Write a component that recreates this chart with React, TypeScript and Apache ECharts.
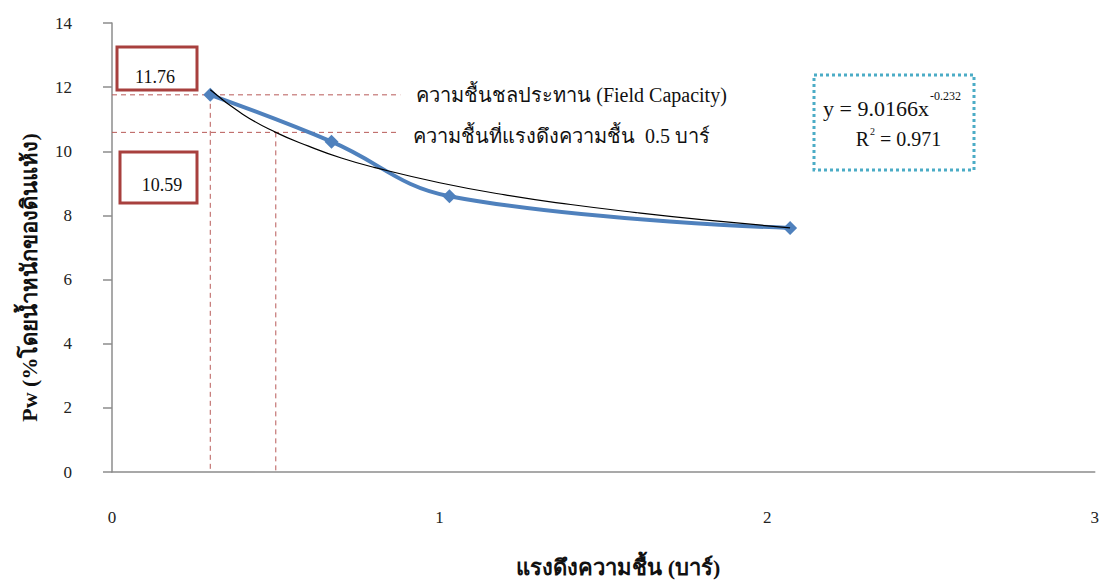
import React, { useEffect, useRef } from "react";
import * as echarts from "echarts";

const suctionBar = [0.3, 0.67, 1.03, 2.07];
const waterPw = [11.76, 10.3, 8.6, 7.61];

const trendX = [0.3, 0.4, 0.5, 0.6, 0.7, 0.8, 1.0, 1.2, 1.4, 1.6, 1.8, 2.07];
const trendY = [11.92, 11.15, 10.59, 10.16, 9.79, 9.5, 9.02, 8.64, 8.34, 8.09, 7.87, 7.61];

const fieldCapacity = 11.76;
const fieldCapacityX = 0.3;
const halfBarX = 0.5;
const halfBarPw = 10.59;
const guideEndX = 0.88;

const xTicks = [0, 1, 2, 3];
const yTicks = [0, 2, 4, 6, 8, 10, 12, 14];

const FONT = "'Liberation Serif', 'Times New Roman', serif";
const RED = "#b85a58";

export default function App() {
  const ref = useRef<HTMLDivElement>(null);
  useEffect(() => {
    if (!ref.current) return;
    const chart = echarts.init(ref.current, undefined, { renderer: "svg" });
    const dashed = { color: RED, width: 1, type: [5, 4] as any };
    const guideLabel = (text: string, dy: number) => ({
      show: true,
      distance: 16,
      offset: [0, dy],
      formatter: text,
      color: "#111",
      fontFamily: FONT,
      fontSize: 20,
    });
    chart.setOption({
      animation: false,
      backgroundColor: "#fff",
      grid: { left: 112, right: 7, top: 23, bottom: 111, containLabel: false },
      xAxis: {
        type: "value",
        min: xTicks[0],
        max: xTicks[xTicks.length - 1],
        interval: 1,
        splitLine: { show: false },
        axisLine: { lineStyle: { color: "#8c8c8c", width: 1.5 } },
        axisTick: { show: false },
        axisLabel: { margin: 37, color: "#222", fontFamily: FONT, fontSize: 17 },
        name: "แรงดึงความชื้น (บาร์)",
        nameLocation: "middle",
        nameGap: 84,
        nameTextStyle: {
          color: "#111",
          fontFamily: FONT,
          fontSize: 22,
          fontWeight: "bold",
          padding: [0, 0, 0, 30],
        },
      },
      yAxis: {
        type: "value",
        min: yTicks[0],
        max: yTicks[yTicks.length - 1],
        interval: 2,
        splitLine: { show: false },
        axisLine: { show: true, lineStyle: { color: "#8c8c8c", width: 1.5 } },
        axisTick: { show: true, length: 9, lineStyle: { color: "#8c8c8c", width: 1.5 } },
        axisLabel: { margin: 40, color: "#222", fontFamily: FONT, fontSize: 17 },
        name: "Pw (%โดยน้ำหนักของดินแห้ง)",
        nameLocation: "middle",
        nameGap: 72,
        nameTextStyle: {
          color: "#111",
          fontFamily: FONT,
          fontSize: 22,
          fontWeight: "bold",
          padding: [0, 60, 0, 0],
        },
      },
      series: [
        {
          type: "line",
          data: [[0, fieldCapacity], [guideEndX, fieldCapacity]],
          symbol: "none",
          lineStyle: dashed,
          endLabel: guideLabel("ความชื้นชลประทาน (Field Capacity)", 0),
          z: 1,
        },
        {
          type: "line",
          data: [[0, halfBarPw], [guideEndX - 0.01, halfBarPw]],
          symbol: "none",
          lineStyle: dashed,
          endLabel: guideLabel("ความชื้นที่แรงดึงความชื้น  0.5 บาร์", 4),
          z: 1,
        },
        {
          type: "line",
          data: [[fieldCapacityX, fieldCapacity], [fieldCapacityX, 0]],
          symbol: "none",
          lineStyle: dashed,
          z: 1,
        },
        {
          type: "line",
          data: [[halfBarX, halfBarPw], [halfBarX, 0]],
          symbol: "none",
          lineStyle: dashed,
          z: 1,
        },
        {
          type: "line",
          data: suctionBar.map((x, i) => [x, waterPw[i]]),
          smooth: 0.4,
          symbol: "diamond",
          symbolSize: 14,
          itemStyle: { color: "#4f81bd" },
          lineStyle: { color: "#4f81bd", width: 4 },
          z: 3,
        },
        {
          type: "line",
          data: trendX.map((x, i) => [x, trendY[i]]),
          smooth: true,
          symbol: "none",
          lineStyle: { color: "#000", width: 1.2 },
          z: 4,
        },
      ],
      graphic: [
        {
          type: "rect",
          shape: { x: 117, y: 47, width: 80, height: 43 },
          style: { fill: "#fff", stroke: "#a8403e", lineWidth: 3 },
          z: 10,
        },
        {
          type: "text",
          x: 155,
          y: 77,
          style: { text: "11.76", fill: "#111", font: `18px ${FONT}`, align: "center", verticalAlign: "middle" },
          z: 11,
        },
        {
          type: "rect",
          shape: { x: 120, y: 152, width: 77, height: 51 },
          style: { fill: "#fff", stroke: "#a8403e", lineWidth: 3 },
          z: 10,
        },
        {
          type: "text",
          x: 162,
          y: 185,
          style: { text: "10.59", fill: "#111", font: `18px ${FONT}`, align: "center", verticalAlign: "middle" },
          z: 11,
        },
        {
          type: "rect",
          shape: { x: 814, y: 75, width: 160, height: 95 },
          style: { fill: "#fff", stroke: "#4bacc6", lineWidth: 3, lineDash: [3, 3] },
          z: 10,
        },
        {
          type: "text",
          x: 929,
          y: 108,
          style: { text: "y = 9.0166x", fill: "#111", font: `22px ${FONT}`, align: "right", verticalAlign: "middle" },
          z: 11,
        },
        {
          type: "text",
          x: 930,
          y: 96,
          style: { text: "-0.232", fill: "#111", font: `12px ${FONT}`, align: "left", verticalAlign: "middle" },
          z: 11,
        },
        {
          type: "text",
          x: 869,
          y: 139,
          style: { text: "R", fill: "#111", font: `20px ${FONT}`, align: "right", verticalAlign: "middle" },
          z: 11,
        },
        {
          type: "text",
          x: 870,
          y: 131,
          style: { text: "2", fill: "#111", font: `10px ${FONT}`, align: "left", verticalAlign: "middle" },
          z: 11,
        },
        {
          type: "text",
          x: 875,
          y: 139,
          style: { text: " = 0.971", fill: "#111", font: `20px ${FONT}`, align: "left", verticalAlign: "middle" },
          z: 11,
        },
      ],
    });
    return () => chart.dispose();
  }, []);
  return <div ref={ref} style={{ width: 1102, height: 583, position: "absolute", left: 0, top: 0 }} />;
}
